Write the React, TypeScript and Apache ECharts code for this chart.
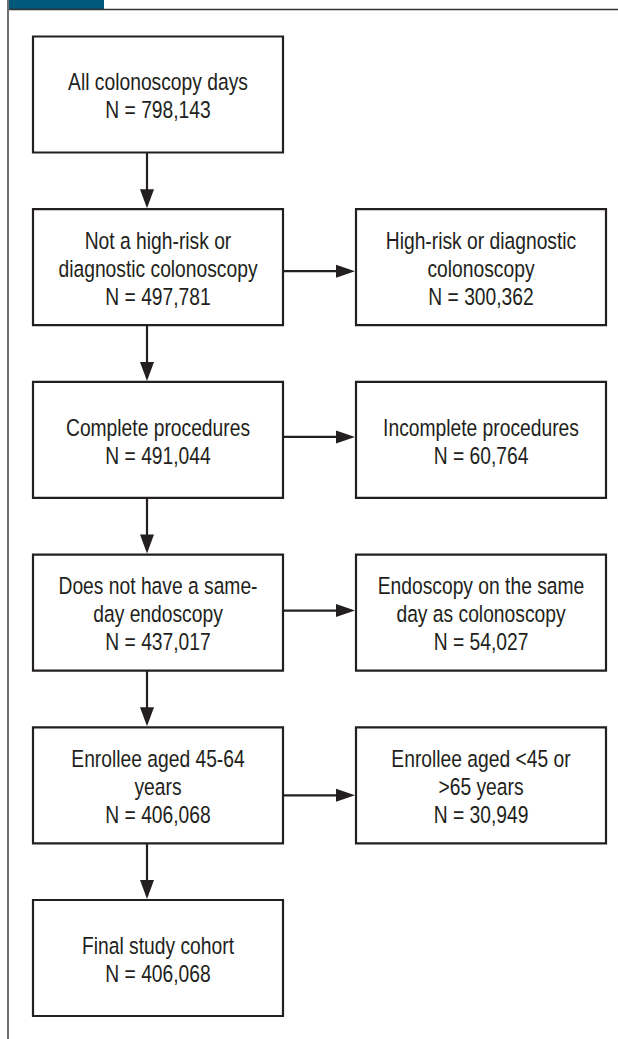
import React, { useEffect, useRef } from "react";
import * as echarts from "echarts";

// ---- Data ----
const rowIndex = [0, 1, 2, 3, 4, 5];
const mainLabels = [
  "All colonoscopy days",
  "Not a high-risk or\ndiagnostic colonoscopy",
  "Complete procedures",
  "Does not have a same-\nday endoscopy",
  "Enrollee aged 45-64\nyears",
  "Final study cohort",
];
const mainCounts = [798143, 497781, 491044, 437017, 406068, 406068];
const excludedLabels: (string | null)[] = [
  null,
  "High-risk or diagnostic\ncolonoscopy",
  "Incomplete procedures",
  "Endoscopy on the same\nday as colonoscopy",
  "Enrollee aged <45 or\n>65 years",
  null,
];
const excludedCounts: (number | null)[] = [null, 300362, 60764, 54027, 30949, null];

// ---- Style ----
const W = 618;
const H = 1039;
const BW = 250;
const BH = 116;
const INK = "#231f20";
const TEXT = "#231f20";
const FONT_FAMILY = '"Liberation Sans", Arial, sans-serif';
const HEAD_L = 19;
const HEAD_W = 14;
const sideArrowOffset = [0, 4, -3, -2, 10, 0];

export default function App() {
  const ref = useRef<HTMLDivElement>(null);
  useEffect(() => {
    const chart = echarts.init(ref.current!, null, { renderer: "svg" });
    const fmt = (n: number) => "N = " + n.toLocaleString("en-US");

    const box = (cx: number, cy: number, text: string) => [
      {
        type: "rect",
        shape: { x: cx - BW / 2, y: cy - BH / 2, width: BW, height: BH },
        style: { fill: "#fff", stroke: INK, lineWidth: 2.2 },
      },
      {
        type: "text",
        x: cx,
        y: cy + 2,
        scaleX: 0.82,
        style: {
          text,
          align: "center",
          verticalAlign: "middle",
          fill: TEXT,
          fontSize: 23.5,
          fontFamily: FONT_FAMILY,
          lineHeight: 28,
        },
      },
    ];

    const renderItem = (params: any, api: any) => {
      const i = params.dataIndex;
      const row = api.value(0) as number;
      const [lx, ly] = api.coord([0, row]);
      const [rx] = api.coord([1, row]);
      const children: any[] = [];
      children.push(...box(lx, ly, mainLabels[i] + "\n" + fmt(mainCounts[i])));
      if (i < rowIndex.length - 1) {
        const [, ny] = api.coord([0, rowIndex[i + 1]]);
        const ax = lx - 11;
        const y0 = ly + BH / 2;
        const y1 = ny - BH / 2 - 1;
        children.push({
          type: "line",
          shape: { x1: ax, y1: y0, x2: ax, y2: y1 - HEAD_L + 1 },
          style: { stroke: INK, lineWidth: 2.2 },
        });
        children.push({
          type: "polygon",
          shape: { points: [[ax, y1], [ax - HEAD_W / 2, y1 - HEAD_L], [ax + HEAD_W / 2, y1 - HEAD_L]] },
          style: { fill: INK },
        });
      }
      const ex = excludedLabels[i];
      const ec = excludedCounts[i];
      if (ex && ec != null) {
        const ay = ly + sideArrowOffset[i];
        const x0 = lx + BW / 2;
        const x1 = rx - BW / 2 - 1;
        children.push({
          type: "line",
          shape: { x1: x0, y1: ay, x2: x1 - HEAD_L + 1, y2: ay },
          style: { stroke: INK, lineWidth: 2.2 },
        });
        children.push({
          type: "polygon",
          shape: { points: [[x1, ay], [x1 - HEAD_L, ay - 6.5], [x1 - HEAD_L, ay + 6.5]] },
          style: { fill: INK },
        });
        children.push(...box(rx, ly, ex + "\n" + fmt(ec)));
      }
      return { type: "group", children };
    };

    chart.setOption({
      animation: false,
      backgroundColor: "#ffffff",
      grid: { left: 158, right: W - 481, top: 94.5, bottom: H - 958 },
      xAxis: { type: "value", min: 0, max: 1, show: false },
      yAxis: { type: "value", min: 0, max: 5, inverse: true, show: false },
      graphic: [
        { type: "rect", shape: { x: 8, y: 0, width: 96, height: 9 }, style: { fill: "#00587a" } },
        { type: "line", shape: { x1: 8, y1: 9.5, x2: W, y2: 9.5 }, style: { stroke: "#333", lineWidth: 1.5 } },
        { type: "line", shape: { x1: 8, y1: 0, x2: 8, y2: H }, style: { stroke: "#707070", lineWidth: 2 } },
      ],
      series: [
        {
          type: "custom",
          coordinateSystem: "cartesian2d",
          clip: false,
          silent: true,
          renderItem,
          data: rowIndex.map((r) => [r]),
          encode: { y: 0 },
        },
      ],
    });
    return () => chart.dispose();
  }, []);
  return (
    <div
      ref={ref}
      style={{ position: "fixed", left: 0, top: 0, width: W, height: H, background: "#fff" }}
    />
  );
}
